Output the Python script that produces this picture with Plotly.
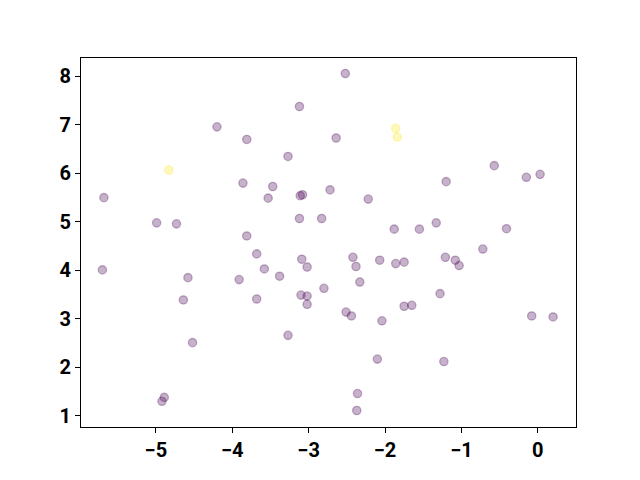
import plotly.graph_objects as go

x_vals = [-5.68, -4.99, -4.73, -4.83, -4.20, -3.81, -3.86, -3.47, -3.53, -3.81,
          -3.27, -3.12, -3.11, -3.08, -3.12, -2.83, -2.72, -2.52, -2.64, -1.86,
          -1.84, -2.22, -1.88, -1.55, -1.33, -1.20, -0.57, -0.15, 0.03, -0.41,
          -0.72, -5.70, -4.58, -4.64, -4.52, -4.92, -4.89, -3.91, -3.68, -3.58,
          -3.38, -3.68, -3.09, -3.02, -3.10, -3.02, -3.02, -3.27, -2.80, -2.42,
          -2.38, -2.33, -2.07, -1.86, -1.75, -1.21, -1.08, -1.03, -1.28, -1.75,
          -1.65, -2.51, -2.44, -2.04, -0.08, 0.20, -2.10, -1.23, -2.36, -2.37]
y_vals = [5.50, 4.98, 4.96, 6.07, 6.96, 6.70, 5.80, 5.73, 5.49, 4.71,
          6.35, 7.38, 5.54, 5.56, 5.07, 5.07, 5.66, 8.06, 6.73, 6.93,
          6.75, 5.47, 4.85, 4.85, 4.98, 5.83, 6.16, 5.92, 5.98, 4.86,
          4.44, 4.01, 3.85, 3.39, 2.51, 1.30, 1.38, 3.81, 4.34, 4.03,
          3.88, 3.41, 4.23, 4.07, 3.49, 3.47, 3.30, 2.66, 3.63, 4.27,
          4.08, 3.76, 4.21, 4.14, 4.17, 4.27, 4.21, 4.10, 3.52, 3.26,
          3.28, 3.14, 3.06, 2.96, 3.06, 3.04, 2.17, 2.12, 1.46, 1.11]
labels = [0, 0, 0, 1, 0, 0, 0, 0, 0, 0,
          0, 0, 0, 0, 0, 0, 0, 0, 0, 1,
          1, 0, 0, 0, 0, 0, 0, 0, 0, 0,
          0, 0, 0, 0, 0, 0, 0, 0, 0, 0,
          0, 0, 0, 0, 0, 0, 0, 0, 0, 0,
          0, 0, 0, 0, 0, 0, 0, 0, 0, 0,
          0, 0, 0, 0, 0, 0, 0, 0, 0, 0]
x_ticks = [-5, -4, -3, -2, -1, 0]
y_ticks = [1, 2, 3, 4, 5, 6, 7, 8]

palette = {0: "rgba(68,1,84,0.3)", 1: "rgba(253,231,37,0.3)"}
colors = [palette[l] for l in labels]

fig = go.Figure(go.Scatter(
    x=x_vals, y=y_vals, mode="markers",
    marker=dict(size=8.3, color=colors,
                line=dict(width=1.3, color=colors)),
    showlegend=False,
))

tickfont = dict(family="Roboto, Arial, sans-serif", size=20, color="black", weight=700)
axis_common = dict(showgrid=False, zeroline=False, showline=True, linecolor="black",
                   linewidth=1, mirror=True, ticks="outside", ticklen=5,
                   tickcolor="black", tickwidth=1, tickfont=tickfont,
                   automargin=False)

fig.update_xaxes(range=[-5.98, 0.50], tickvals=x_ticks,
                 ticktext=["\u2212" + str(abs(t)) if t < 0 else str(t) for t in x_ticks],
                 **axis_common)
fig.update_yaxes(range=[0.77, 8.38], tickvals=y_ticks, **axis_common)

fig.update_layout(width=640, height=480, plot_bgcolor="white", paper_bgcolor="white",
                  margin=dict(l=81, r=64, t=58, b=53))

fig.write_html("out.html", config={"displayModeBar": False},
               post_script="document.body.style.margin='0';")
